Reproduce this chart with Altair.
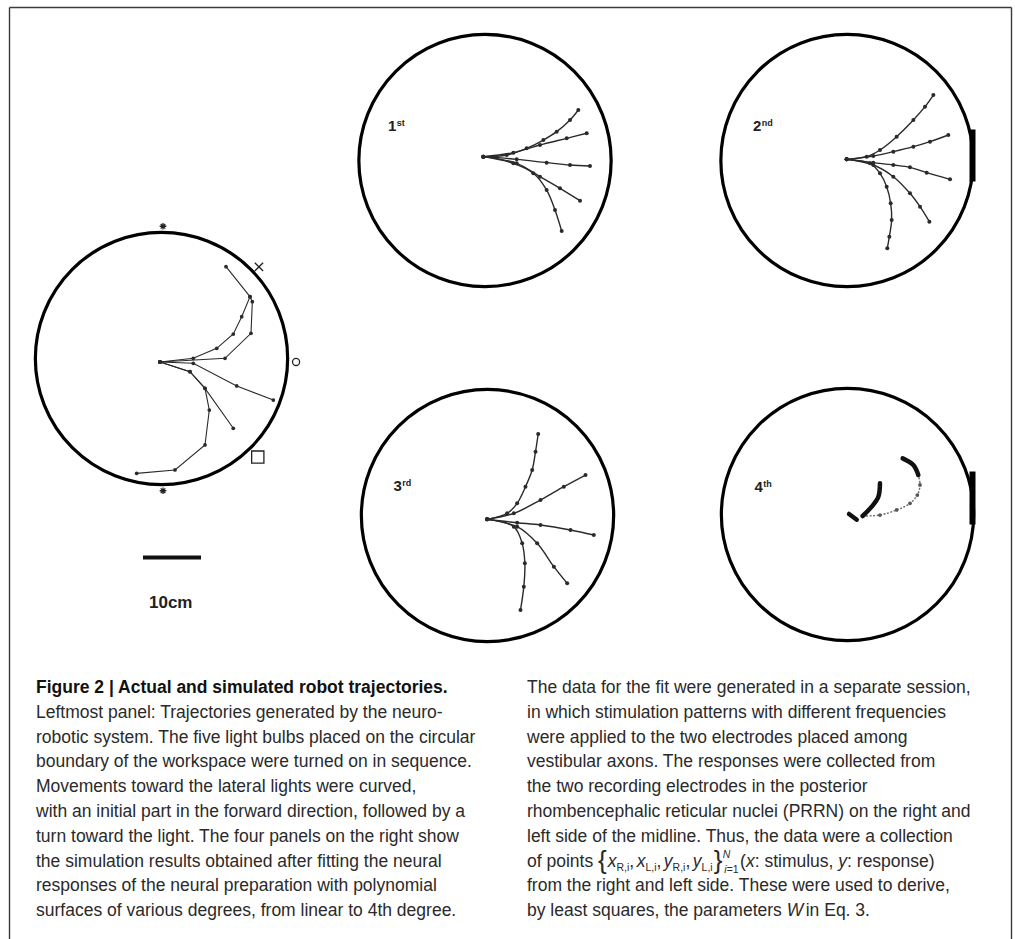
import altair as alt
import pandas as pd

PAGE_W, PAGE_H = 1015, 939
PX_PER_CM = 5.8            # drawing scale: the 10 cm bar is 58 px long
ARENA_R_CM = 21.75         # radius of the circular workspace
FONT = "Liberation Sans"
INK = "#2a2a2a"

# centre of each workspace drawing on the page (layout only)
PANEL_CENTRE = {
    "robot": (161.5, 358.5),
    "1st": (485.0, 160.5),
    "2nd": (847.0, 160.5),
    "3rd": (487.5, 515.5),
    "4th": (847.5, 514.5),
}

# ---------------------------------------------------------------- data
# light bulbs on the boundary of the robot workspace (cm from centre)
light_shape = ["star", "cross", "ring", "box", "star"]
light_x_cm = [0.26, 16.8, 23.2, 16.6, 0.26]
light_y_cm = [22.8, 15.8, -0.6, -17.0, -22.8]

# trajectories in cm from the workspace centre (x right, y up)
robot_tracks = {
    "a": [(-0.26, -0.60), (5.48, 0.03), (9.52, 1.76), (12.38, 4.22),
          (13.83, 7.21), (15.26, 10.66), (11.12, 15.83)],
    "b": [(-0.26, -0.60), (10.95, 0.03), (15.43, 4.34), (15.66, 9.79),
          (15.26, 10.66)],
    "c": [(-0.26, -0.60), (5.48, -0.83), (12.97, -4.74), (19.28, -7.16)],
    "d": [(-0.26, -0.60), (4.91, -2.28), (7.50, -5.14), (12.38, -12.03)],
    "e": [(-0.26, -0.60), (4.91, -2.28), (7.50, -5.14), (8.24, -8.88),
          (7.50, -14.91), (2.33, -19.22), (-4.28, -19.80)],
}

fit1_tracks = {
    "top": [(-0.29, 0.66), (3.74, 0.95), (7.18, 2.10), (10.06, 3.53),
            (12.36, 4.97), (14.66, 6.98), (16.09, 8.71)],
    "upper": [(-0.29, 0.66), (4.89, 1.35), (9.48, 2.67), (14.08, 3.82),
              (17.53, 4.69)],
    "mid": [(-0.29, 0.66), (5.46, 0.20), (10.63, -0.37), (14.66, -0.78),
            (18.10, -0.95)],
    "lower": [(-0.29, 0.66), (5.46, -0.49), (9.48, -2.79), (12.93, -4.80),
              (16.38, -6.93)],
    "bottom": [(-0.29, 0.66), (4.89, -0.49), (8.33, -2.21), (10.63, -5.09),
               (12.07, -8.53), (13.22, -12.16)],
}

fit2_tracks = {
    "top": [(-0.06, 0.20), (3.39, 0.66), (5.69, 1.81), (8.56, 4.11),
            (11.44, 6.98), (13.45, 9.28), (14.89, 11.29)],
    "upper": [(-0.06, 0.20), (4.54, 0.78), (7.99, 1.52), (11.44, 2.38),
              (14.31, 3.25), (17.47, 4.40)],
    "mid": [(-0.06, 0.20), (4.54, -0.37), (7.99, -0.78), (10.86, -1.18),
            (13.74, -2.10), (17.76, -3.25)],
    "lower": [(-0.06, 0.20), (4.54, -0.78), (7.99, -2.79), (10.86, -5.66),
              (12.59, -7.96), (14.20, -10.54)],
    "bottom": [(-0.06, 0.20), (3.97, -0.49), (5.69, -2.21), (6.84, -4.51),
               (7.53, -7.38), (7.70, -10.26), (7.30, -13.13), (6.95, -15.14)],
}

fit3_tracks = {
    "top": [(-0.06, -0.66), (3.39, 0.37), (5.11, 2.10), (6.55, 4.97),
            (7.70, 7.84), (8.28, 11.00), (8.74, 14.05)],
    "upper": [(-0.06, -0.66), (4.54, 0.37), (9.14, 2.67), (13.16, 4.97),
              (16.90, 6.98)],
    "mid": [(-0.06, -0.66), (5.11, -1.24), (9.14, -1.64), (14.31, -2.50),
            (18.33, -3.36)],
    "lower": [(-0.06, -0.66), (5.11, -1.93), (8.56, -4.80), (11.44, -8.82),
              (13.74, -11.70)],
    "bottom": [(-0.06, -0.66), (4.54, -1.93), (5.98, -4.80), (6.44, -8.25),
               (6.26, -12.27), (5.69, -16.30)],
}

fit4_tracks = {
    "stub": [(0.26, 0.09), (1.60, -0.90)],
    "hook": [(2.61, -0.26), (4.17, 1.35), (5.32, 3.07), (5.60, 5.37)],
    "arc": [(2.61, -0.26), (5.60, -0.09), (8.48, 0.78), (10.78, 1.93),
            (12.04, 3.36), (12.50, 5.09), (12.21, 6.81)],
    "tip": [(12.21, 6.81), (11.35, 8.53), (9.51, 9.68)],
}
fit4_thick = ["stub", "hook", "tip"]

panel_names = ["1st", "2nd", "3rd", "4th"]
scale_bar_cm = 10

title_text = "Figure 2 | Actual and simulated robot trajectories."
left_caption = [
    "Leftmost panel: Trajectories generated by the neuro-",
    "robotic system. The five light bulbs placed on the circular",
    "boundary of the workspace were turned on in sequence.",
    "Movements toward the lateral lights were curved,",
    "with an initial part in the forward direction, followed by a",
    "turn toward the light. The four panels on the right show",
    "the simulation results obtained after fitting the neural",
    "responses of the neural preparation with polynomial",
    "surfaces of various degrees, from linear to 4th degree.",
]
right_caption = [
    "The data for the fit were generated in a separate session,",
    "in which stimulation patterns with different frequencies",
    "were applied to the two electrodes placed among",
    "vestibular axons. The responses were collected from",
    "the two recording electrodes in the posterior",
    "rhombencephalic reticular nuclei (PRRN) on the right and",
    "left side of the midline. Thus, the data were a collection",
    None,  # set-notation line, typeset piecewise below
    "from the right and left side. These were used to derive,",
    None,  # line with italic W
]

# ---------------------------------------------------------------- geometry helpers
def to_page(panel, x_cm, y_cm):
    cx, cy = PANEL_CENTRE[panel]
    return cx + x_cm * PX_PER_CM, cy - y_cm * PX_PER_CM


track_rows = []
def add_tracks(panel, tracks, style_of):
    for name, pts in tracks.items():
        for i, (x, y) in enumerate(pts):
            px, py = to_page(panel, x, y)
            track_rows.append(dict(panel=panel, track=f"{panel}-{name}", seq=i,
                                   px=px, py=py, kind=style_of(name)))

add_tracks("robot", robot_tracks, lambda n: "robot")
add_tracks("1st", fit1_tracks, lambda n: "fit")
add_tracks("2nd", fit2_tracks, lambda n: "fit")
add_tracks("3rd", fit3_tracks, lambda n: "fit")
add_tracks("4th", fit4_tracks, lambda n: "thick" if n in fit4_thick else "faint")
tracks_df = pd.DataFrame(track_rows)

ring_px = ARENA_R_CM * PX_PER_CM
circles_df = pd.DataFrame([
    dict(panel=p, px=c[0], py=c[1], size=(2 * ring_px) ** 2)
    for p, c in PANEL_CENTRE.items()
])

SHAPE_PATH = {
    "star": "M-1,0L1,0M0,-1L0,1M-0.7,-0.7L0.7,0.7M-0.7,0.7L0.7,-0.7",
    "cross": "M-1,-1L1,1M-1,1L1,-1",
    "ring": "circle",
    "box": "square",
}
SHAPE_SIZE = {"star": 45, "cross": 70, "ring": 50, "box": 150}
light_rows = []
for kind, x, y in zip(light_shape, light_x_cm, light_y_cm):
    px, py = to_page("robot", x, y)
    light_rows.append(dict(px=px, py=py, shape=SHAPE_PATH[kind], size=SHAPE_SIZE[kind]))
lights_df = pd.DataFrame(light_rows)

# the right-hand drawings are cut at the edge of the original plate
edge_span = {"2nd": (-31, 21), "4th": (-43, 10)}
edge_df = pd.DataFrame([
    dict(px=969.5, px2=975.5, py=PANEL_CENTRE[p][1] + a, py2=PANEL_CENTRE[p][1] + b)
    for p, (a, b) in edge_span.items()
])

frame_df = pd.DataFrame([
    dict(px=9.5, px2=1011.5, py=7.5, py2=7.5),
    dict(px=9.5, px2=9.5, py=7.5, py2=PAGE_H + 5),
    dict(px=1011.5, px2=1011.5, py=7.5, py2=PAGE_H + 5),
])

bar_x0, bar_y = 143.0, 557.5
bar_df = pd.DataFrame([dict(px=bar_x0, px2=bar_x0 + scale_bar_cm * PX_PER_CM, py=bar_y)])

# ---------------------------------------------------------------- text
# Liberation Sans advance widths (1/1000 em)
ADV = {" ": 278, "a": 556, "b": 556, "c": 500, "d": 556, "e": 556, "f": 278,
       "g": 556, "h": 556, "i": 222, "l": 222, "m": 833, "n": 556, "o": 556,
       "p": 556, "q": 556, "r": 333, "s": 500, "t": 278, "u": 556, "x": 500,
       "y": 500, "E": 667, "L": 556, "N": 722, "R": 722, "W": 944, "{": 334,
       "}": 334, "(": 333, ")": 333, ",": 278, ":": 278, ".": 278, "=": 584,
       "1": 556, "3": 556, "2": 556, "4": 556}

def adv(s, size):
    return sum(ADV.get(ch, 556) for ch in s) * size / 1000.0

text_rows = []
def put(x, y, s, size, weight="normal", italic=False, color=INK):
    text_rows.append(dict(px=float(x), py=float(y), label=s, fs=float(size),
                          fw=weight, it=italic, col=color))

CAP = 17.5
SUB = 10.5
COL_L, COL_R = 36.0, 527.0
TOP_Y, LEAD = 693.0, 24.8

put(COL_L, TOP_Y, title_text, CAP, weight="bold", color="#111111")
for i, line in enumerate(left_caption):
    put(COL_L, TOP_Y + (i + 1) * LEAD, line, CAP)
for i, line in enumerate(right_caption):
    if line is not None:
        put(COL_R, TOP_Y + i * LEAD, line, CAP)

# line 8: the set of fitted points
y8 = TOP_Y + 7 * LEAD
x = COL_R
put(x, y8, "of points ", CAP); x += adv("of points ", CAP)
put(x, y8 + 2.5, "{", 26); x += adv("{", 26) + 1
for k, (var, sub) in enumerate([("x", "R,i"), ("x", "L,i"), ("y", "R,i"), ("y", "L,i")]):
    put(x, y8, var, CAP, italic=True); x += adv(var, CAP)
    put(x, y8 + 4, sub, SUB); x += adv(sub, SUB)
    if k < 3:
        put(x, y8, ",", CAP); x += adv(",", CAP) + 2.5
x += 1
put(x, y8 + 2.5, "}", 26); x += adv("}", 26) + 0.5
put(x, y8 - 9, "N", SUB, italic=True)
put(x + 1.5, y8 + 6, "i", SUB, italic=True)
put(x + 1.5 + adv("i", SUB), y8 + 6, "=1", SUB)
x += adv("i=1", SUB) + 3
for piece, ital in [("(", False), ("x", True), (": stimulus, ", False),
                    ("y", True), (": response)", False)]:
    put(x, y8, piece, CAP, italic=ital)
    x += adv(piece, CAP)

# line 10: least-squares parameters
y10 = TOP_Y + 9 * LEAD
x = COL_R
for piece, ital, gap in [("by least squares, the parameters ", False, 0), ("W", True, 2.5),
                         (" in Eq. 3.", False, 0)]:
    put(x, y10, piece, CAP, italic=ital)
    x += adv(piece, CAP) + gap

# panel degree labels: digit plus raised ordinal suffix
label_offset = {"1st": (-97, -30), "2nd": (-94, -30), "3rd": (-94, -25), "4th": (-93, -23)}
for name in panel_names:
    cx, cy = PANEL_CENTRE[name]
    dx, dy = label_offset[name]
    put(cx + dx, cy + dy, name[0], 15, weight="bold", color="#222222")
    put(cx + dx + adv("1", 15) + 0.5, cy + dy - 5, name[1:], 9, weight="bold", color="#222222")

put(149, 608, f"{scale_bar_cm}cm", 17, weight="bold", color="#222222")
text_df = pd.DataFrame(text_rows)

# ---------------------------------------------------------------- chart
xs = alt.Scale(domain=[0, PAGE_W], range=[0, PAGE_W], nice=False, zero=False)
ys = alt.Scale(domain=[0, PAGE_H], range=[0, PAGE_H], nice=False, zero=False)
X = alt.X("px:Q", scale=xs, axis=None)
Y = alt.Y("py:Q", scale=ys, axis=None)

frame = alt.Chart(frame_df).mark_rule(color="#3a3a3a", strokeWidth=1.4).encode(
    x=X, x2="px2:Q", y=Y, y2="py2:Q")

rings = alt.Chart(circles_df).mark_point(
    shape="circle", filled=False, color="black", strokeWidth=3.2, opacity=1
).encode(x=X, y=Y, size=alt.Size("size:Q", scale=None))

edges = alt.Chart(edge_df).mark_rect(color="black").encode(
    x=X, x2="px2:Q", y=Y, y2="py2:Q")

def kind_is(k):
    return alt.datum.kind == k

robot_lines = alt.Chart(tracks_df).transform_filter(kind_is("robot")).mark_line(
    color=INK, strokeWidth=1.1).encode(x=X, y=Y, detail="track:N", order="seq:Q")
robot_dots = alt.Chart(tracks_df).transform_filter(kind_is("robot")).mark_point(
    filled=True, color=INK, size=14, opacity=1).encode(x=X, y=Y)

fit_lines = alt.Chart(tracks_df).transform_filter(kind_is("fit")).mark_line(
    color=INK, strokeWidth=1.4, interpolate="catmull-rom").encode(
    x=X, y=Y, detail="track:N", order="seq:Q")
fit_dots = alt.Chart(tracks_df).transform_filter(kind_is("fit")).mark_point(
    filled=True, color=INK, size=16, opacity=1).encode(x=X, y=Y)

faint_lines = alt.Chart(tracks_df).transform_filter(kind_is("faint")).mark_line(
    color="#6a6a6a", strokeWidth=1.4, strokeDash=[2, 1.5], interpolate="catmull-rom").encode(
    x=X, y=Y, detail="track:N", order="seq:Q")
faint_dots = alt.Chart(tracks_df).transform_filter(kind_is("faint")).mark_point(
    filled=True, color="#555555", size=14, opacity=1).encode(x=X, y=Y)

thick_lines = alt.Chart(tracks_df).transform_filter(kind_is("thick")).mark_line(
    color="#111111", strokeWidth=4.5, interpolate="catmull-rom", strokeCap="round").encode(
    x=X, y=Y, detail="track:N", order="seq:Q")

lights = alt.Chart(lights_df).mark_point(
    filled=False, color="#222222", strokeWidth=1.3, opacity=1
).encode(x=X, y=Y, shape=alt.Shape("shape:N", scale=None),
         size=alt.Size("size:Q", scale=None))

scale_bar = alt.Chart(bar_df).mark_rule(color="#111111", strokeWidth=4).encode(
    x=X, x2="px2:Q", y=Y)

# one text layer per combination of font settings
text_layers = []
for (fs, fw, it, col), grp in text_df.groupby(["fs", "fw", "it", "col"]):
    props = dict(align="left", baseline="alphabetic", font=FONT,
                 fontSize=float(fs), fontWeight=str(fw), color=str(col))
    if bool(it):
        props["fontStyle"] = "italic"
    text_layers.append(
        alt.Chart(grp[["px", "py", "label"]].reset_index(drop=True))
        .mark_text(**props)
        .encode(x=X, y=Y, text=alt.Text("label:N")))

chart = alt.layer(
    frame, rings, edges, robot_lines, robot_dots, fit_lines, fit_dots,
    faint_lines, faint_dots, thick_lines, lights, scale_bar, *text_layers
).properties(
    width=PAGE_W, height=PAGE_H, padding=0, autosize="none", background="white"
).configure_view(stroke=None)

chart.save("out.html", embed_options={"renderer": "svg", "actions": False})
